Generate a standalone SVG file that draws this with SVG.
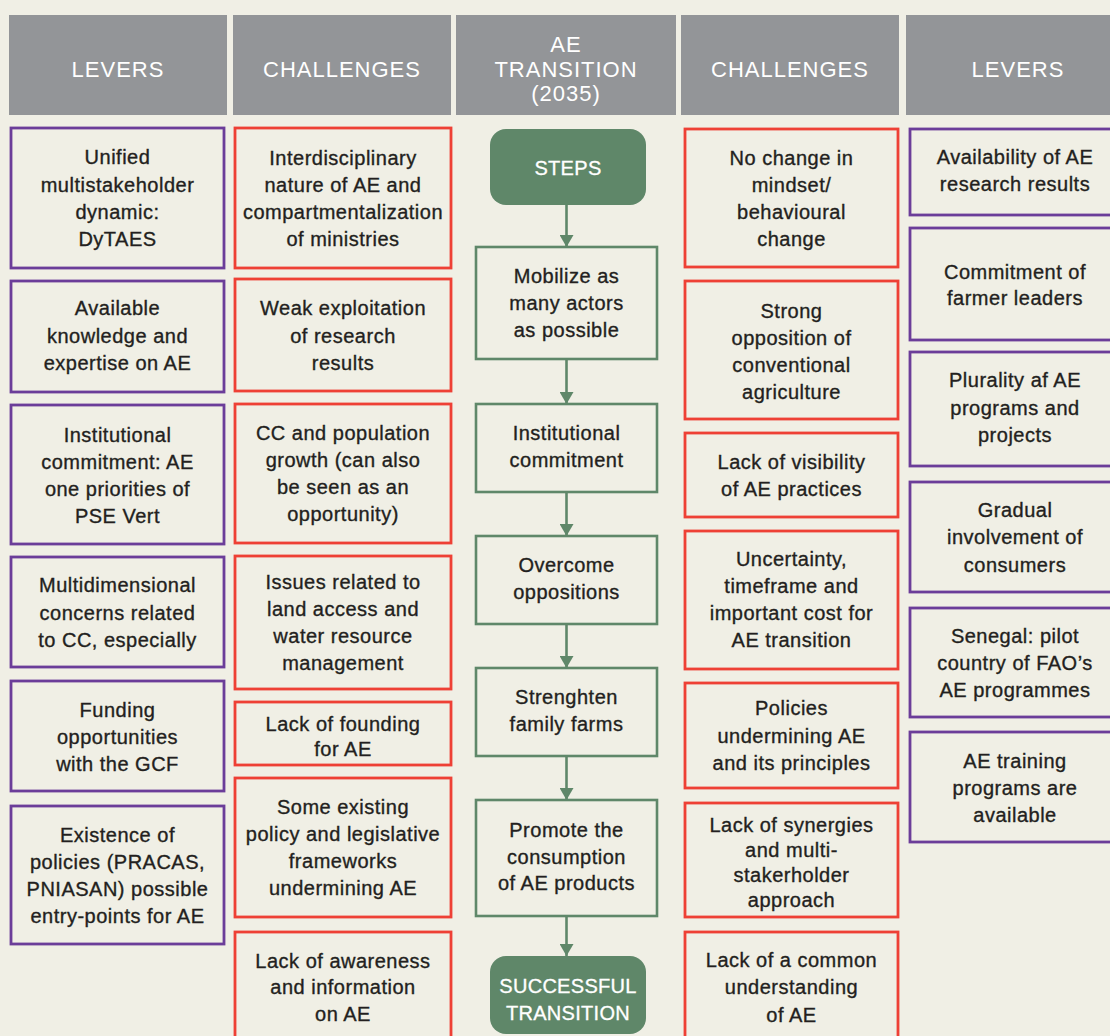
<svg xmlns="http://www.w3.org/2000/svg" width="1110" height="1036" viewBox="0 0 1110 1036">
<defs>
<style>
.hdr{fill:#939598}
.ht{font-family:"Liberation Sans",Arial,sans-serif;font-size:22px;fill:#ffffff;text-anchor:middle;letter-spacing:1px}
.lev{fill:#F0EFE5;stroke:#6B3D99;stroke-width:2.8}
.chl{fill:#F0EFE5;stroke:#EE4035;stroke-width:2.8}
.stp{fill:#F0EFE5;stroke:#5F8769;stroke-width:2.6}
.term{fill:#5F8769}
.t{font-family:"Liberation Sans",Arial,sans-serif;font-size:20px;fill:#231F20;stroke:#231F20;stroke-width:0.35;text-anchor:middle;letter-spacing:0.5px}
.tw{font-family:"Liberation Sans",Arial,sans-serif;font-size:20px;fill:#ffffff;stroke:#ffffff;stroke-width:0.3;text-anchor:middle;letter-spacing:0.3px}
.con{stroke:#5F8769;stroke-width:2.6;fill:none}
</style>
<marker id="ah" markerUnits="userSpaceOnUse" markerWidth="12" markerHeight="14" refX="12" refY="7" orient="auto">
<path d="M0,0 L12,7 L0,14 z" fill="#5F8769"/>
</marker>
</defs>
<rect x="0" y="0" width="1110" height="1036" fill="#F0EFE5"/>

<g id="headers">
<g id="h-levers-left"><rect class="hdr" x="9" y="15" width="218" height="100"/><text class="ht" x="118" y="77">LEVERS</text></g>
<g id="h-challenges-left"><rect class="hdr" x="233" y="15" width="218" height="100"/><text class="ht" x="342" y="77">CHALLENGES</text></g>
<g id="h-transition"><rect class="hdr" x="456" y="15" width="220" height="100"/><text class="ht" x="566" y="52">AE</text><text class="ht" x="566" y="77">TRANSITION</text><text class="ht" x="566" y="101">(2035)</text></g>
<g id="h-challenges-right"><rect class="hdr" x="681" y="15" width="218" height="100"/><text class="ht" x="790" y="77">CHALLENGES</text></g>
<g id="h-levers-right"><rect class="hdr" x="906" y="15" width="224" height="100"/><text class="ht" x="1018" y="77">LEVERS</text></g>
</g>

<g id="connectors">
<line class="con" x1="566.5" y1="205" x2="566.5" y2="247" marker-end="url(#ah)"/>
<line class="con" x1="566.5" y1="359" x2="566.5" y2="404" marker-end="url(#ah)"/>
<line class="con" x1="566.5" y1="492" x2="566.5" y2="536" marker-end="url(#ah)"/>
<line class="con" x1="566.5" y1="624" x2="566.5" y2="668" marker-end="url(#ah)"/>
<line class="con" x1="566.5" y1="756" x2="566.5" y2="800" marker-end="url(#ah)"/>
<line class="con" x1="566.5" y1="916" x2="566.5" y2="956" marker-end="url(#ah)"/>
</g>

<g id="levers-left">
<g id="ll1"><rect class="lev" x="11" y="128" width="213" height="140"/><text class="t"><tspan x="117.5" y="164">Unified</tspan><tspan x="117.5" y="192">multistakeholder</tspan><tspan x="117.5" y="219">dynamic:</tspan><tspan x="117.5" y="246">DyTAES</tspan></text></g>
<g id="ll2"><rect class="lev" x="11" y="281" width="213" height="111"/><text class="t"><tspan x="117.5" y="315">Available</tspan><tspan x="117.5" y="343">knowledge and</tspan><tspan x="117.5" y="370">expertise on AE</tspan></text></g>
<g id="ll3"><rect class="lev" x="11" y="405" width="213" height="139"/><text class="t"><tspan x="117.5" y="441.5">Institutional</tspan><tspan x="117.5" y="468.5">commitment: AE</tspan><tspan x="117.5" y="495.5">one priorities of</tspan><tspan x="117.5" y="522.5">PSE Vert</tspan></text></g>
<g id="ll4"><rect class="lev" x="11" y="557" width="213" height="110"/><text class="t"><tspan x="117.5" y="592">Multidimensional</tspan><tspan x="117.5" y="620">concerns related</tspan><tspan x="117.5" y="647">to CC, especially</tspan></text></g>
<g id="ll5"><rect class="lev" x="11" y="681" width="213" height="110"/><text class="t"><tspan x="117.5" y="717">Funding</tspan><tspan x="117.5" y="744">opportunities</tspan><tspan x="117.5" y="771">with the GCF</tspan></text></g>
<g id="ll6"><rect class="lev" x="11" y="806" width="213" height="138"/><text class="t"><tspan x="117.5" y="842">Existence of</tspan><tspan x="117.5" y="868.5">policies (PRACAS,</tspan><tspan x="117.5" y="895.5">PNIASAN) possible</tspan><tspan x="117.5" y="922.5">entry-points for AE</tspan></text></g>
</g>

<g id="challenges-left">
<g id="cl1"><rect class="chl" x="235" y="128" width="216" height="140"/><text class="t"><tspan x="343" y="165">Interdisciplinary</tspan><tspan x="343" y="192">nature of AE and</tspan><tspan x="343" y="219">compartmentalization</tspan><tspan x="343" y="246">of ministries</tspan></text></g>
<g id="cl2"><rect class="chl" x="235" y="279" width="216" height="112"/><text class="t"><tspan x="343" y="315">Weak exploitation</tspan><tspan x="343" y="342.5">of research</tspan><tspan x="343" y="369.5">results</tspan></text></g>
<g id="cl3"><rect class="chl" x="235" y="404" width="216" height="139"/><text class="t"><tspan x="343" y="440">CC and population</tspan><tspan x="343" y="467">growth (can also</tspan><tspan x="343" y="494">be seen as an</tspan><tspan x="343" y="521">opportunity)</tspan></text></g>
<g id="cl4"><rect class="chl" x="235" y="556" width="216" height="133"/><text class="t"><tspan x="343" y="589">Issues related to</tspan><tspan x="343" y="616">land access and</tspan><tspan x="343" y="643">water resource</tspan><tspan x="343" y="670">management</tspan></text></g>
<g id="cl5"><rect class="chl" x="235" y="702" width="216" height="63"/><text class="t"><tspan x="343" y="730.5">Lack of founding</tspan><tspan x="343" y="756">for AE</tspan></text></g>
<g id="cl6"><rect class="chl" x="235" y="778" width="216" height="139"/><text class="t"><tspan x="343" y="813.5">Some existing</tspan><tspan x="343" y="840.5">policy and legislative</tspan><tspan x="343" y="867.5">frameworks</tspan><tspan x="343" y="894.5">undermining AE</tspan></text></g>
<g id="cl7"><rect class="chl" x="235" y="932" width="216" height="120"/><text class="t"><tspan x="343" y="967.5">Lack of awareness</tspan><tspan x="343" y="994">and information</tspan><tspan x="343" y="1021">on AE</tspan></text></g>
</g>

<g id="steps">
<g id="s0"><rect class="term" x="490" y="129" width="156" height="76" rx="16"/><text class="tw" x="568" y="175">STEPS</text></g>
<g id="s1"><rect class="stp" x="476" y="247" width="181" height="112"/><text class="t"><tspan x="566.5" y="283">Mobilize as</tspan><tspan x="566.5" y="310">many actors</tspan><tspan x="566.5" y="337">as possible</tspan></text></g>
<g id="s2"><rect class="stp" x="476" y="404" width="181" height="88"/><text class="t"><tspan x="566.5" y="440">Institutional</tspan><tspan x="566.5" y="467">commitment</tspan></text></g>
<g id="s3"><rect class="stp" x="476" y="536" width="181" height="88"/><text class="t"><tspan x="566.5" y="572">Overcome</tspan><tspan x="566.5" y="599">oppositions</tspan></text></g>
<g id="s4"><rect class="stp" x="476" y="668" width="181" height="88"/><text class="t"><tspan x="566.5" y="704">Strenghten</tspan><tspan x="566.5" y="731">family farms</tspan></text></g>
<g id="s5"><rect class="stp" x="476" y="800" width="181" height="116"/><text class="t"><tspan x="566.5" y="837">Promote the</tspan><tspan x="566.5" y="863.5">consumption</tspan><tspan x="566.5" y="890">of AE products</tspan></text></g>
<g id="s6"><rect class="term" x="490" y="956" width="156" height="78" rx="16"/><text class="tw"><tspan x="568" y="993">SUCCESSFUL</tspan><tspan x="568" y="1019.5">TRANSITION</tspan></text></g>
</g>

<g id="challenges-right">
<g id="cr1"><rect class="chl" x="685" y="129" width="213" height="138"/><text class="t"><tspan x="791.5" y="165">No change in</tspan><tspan x="791.5" y="192">mindset/</tspan><tspan x="791.5" y="219">behavioural</tspan><tspan x="791.5" y="246">change</tspan></text></g>
<g id="cr2"><rect class="chl" x="685" y="281" width="213" height="138"/><text class="t"><tspan x="791.5" y="318">Strong</tspan><tspan x="791.5" y="345">opposition of</tspan><tspan x="791.5" y="372">conventional</tspan><tspan x="791.5" y="399">agriculture</tspan></text></g>
<g id="cr3"><rect class="chl" x="685" y="433" width="213" height="84"/><text class="t"><tspan x="791.5" y="469">Lack of visibility</tspan><tspan x="791.5" y="496">of AE practices</tspan></text></g>
<g id="cr4"><rect class="chl" x="685" y="531" width="213" height="138"/><text class="t"><tspan x="791.5" y="566">Uncertainty,</tspan><tspan x="791.5" y="593">timeframe and</tspan><tspan x="791.5" y="620">important cost for</tspan><tspan x="791.5" y="647">AE transition</tspan></text></g>
<g id="cr5"><rect class="chl" x="685" y="683" width="213" height="105"/><text class="t"><tspan x="791.5" y="715">Policies</tspan><tspan x="791.5" y="742.5">undermining AE</tspan><tspan x="791.5" y="770">and its principles</tspan></text></g>
<g id="cr6"><rect class="chl" x="685" y="803" width="213" height="114"/><text class="t"><tspan x="791.5" y="831.5">Lack of synergies</tspan><tspan x="791.5" y="856.5">and multi-</tspan><tspan x="791.5" y="881.5">stakerholder</tspan><tspan x="791.5" y="906.5">approach</tspan></text></g>
<g id="cr7"><rect class="chl" x="685" y="932" width="213" height="120"/><text class="t"><tspan x="791.5" y="967">Lack of a common</tspan><tspan x="791.5" y="994">understanding</tspan><tspan x="791.5" y="1021.5">of AE</tspan></text></g>
</g>

<g id="levers-right">
<g id="lr1"><rect class="lev" x="910" y="129" width="220" height="86"/><text class="t"><tspan x="1015" y="163.5">Availability of AE</tspan><tspan x="1015" y="191">research results</tspan></text></g>
<g id="lr2"><rect class="lev" x="910" y="228" width="220" height="112"/><text class="t"><tspan x="1015" y="278.5">Commitment of</tspan><tspan x="1015" y="305">farmer leaders</tspan></text></g>
<g id="lr3"><rect class="lev" x="910" y="352" width="220" height="114"/><text class="t"><tspan x="1015" y="387">Plurality af AE</tspan><tspan x="1015" y="414.5">programs and</tspan><tspan x="1015" y="441.5">projects</tspan></text></g>
<g id="lr4"><rect class="lev" x="910" y="482" width="220" height="110"/><text class="t"><tspan x="1015" y="517">Gradual</tspan><tspan x="1015" y="544">involvement of</tspan><tspan x="1015" y="571.5">consumers</tspan></text></g>
<g id="lr5"><rect class="lev" x="910" y="608" width="220" height="109"/><text class="t"><tspan x="1015" y="642.5">Senegal: pilot</tspan><tspan x="1015" y="669.5">country of FAO’s</tspan><tspan x="1015" y="696.5">AE programmes</tspan></text></g>
<g id="lr6"><rect class="lev" x="910" y="732" width="220" height="110"/><text class="t"><tspan x="1015" y="768">AE training</tspan><tspan x="1015" y="795">programs are</tspan><tspan x="1015" y="821.5">available</tspan></text></g>
</g>
</svg>
